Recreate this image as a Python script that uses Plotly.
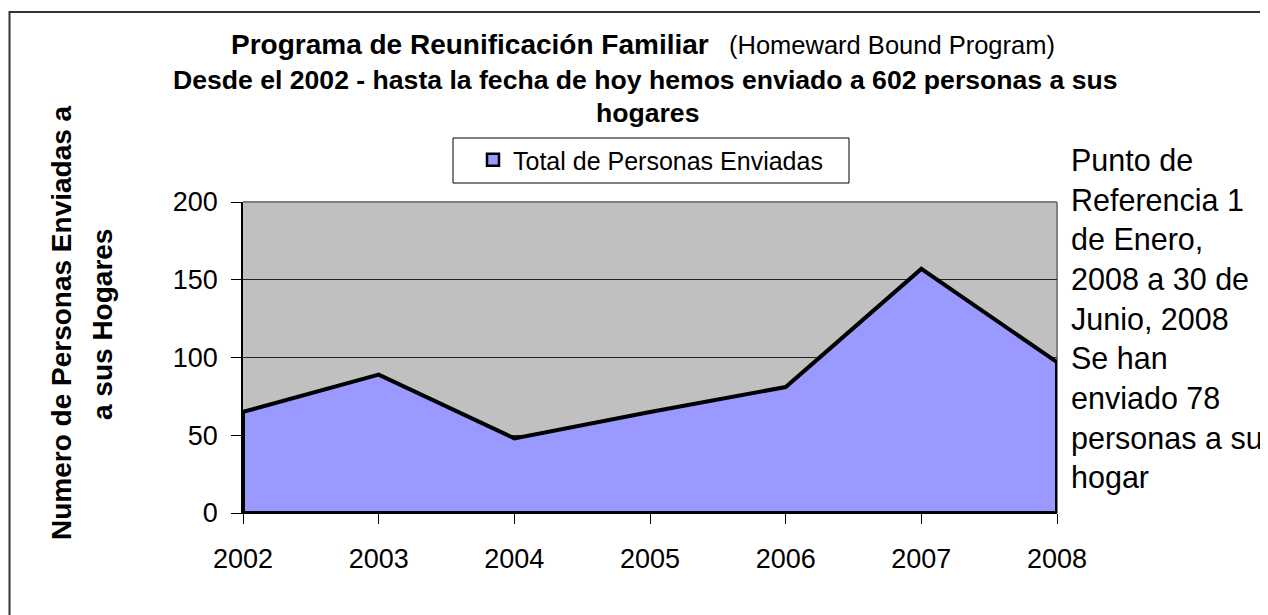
import plotly.graph_objects as go

# ---- data ----
years = [2002, 2003, 2004, 2005, 2006, 2007, 2008]
values = [65, 89, 48, 65, 81, 157, 97]
year_labels = [str(y) for y in years]
series_name = "Total de Personas Enviadas"

title_main = "Programa de Reunificación Familiar"
title_sub = "(Homeward Bound Program)"
title_line2 = "Desde el 2002 - hasta la fecha de hoy hemos enviado a 602 personas a sus"
title_line3 = "hogares"
ytitle_1 = "Numero de Personas Enviadas a"
ytitle_2 = "a sus Hogares"
note_lines = ["Punto de", "Referencia 1", "de Enero,", "2008 a 30 de", "Junio, 2008",
              "Se han", "enviado 78", "personas a su", "hogar"]

# ---- layout geometry (page has an 8px body margin) ----
OFF = 8
W, H = 1268 - OFF, 615 - OFF
PLOT_X0, PLOT_X1, PLOT_Y0, PLOT_Y1 = 243, 1057, 202, 513   # target screen pixels
L = PLOT_X0 - OFF
R = W - (PLOT_X1 - OFF)
T = PLOT_Y0 - OFF
B = H - (PLOT_Y1 - OFF)
FONT = "Liberation Sans, Arial, Helvetica, sans-serif"


def px_x(px):
    return (px - PLOT_X0) / (PLOT_X1 - PLOT_X0)


def px_y(py):
    return (PLOT_Y1 - py) / (PLOT_Y1 - PLOT_Y0)


fig = go.Figure()

# area polygon (closed down to the baseline)
fig.add_trace(go.Scatter(
    x=years + [years[-1], years[0], years[0]],
    y=values + [0, 0, values[0]],
    mode="lines",
    fill="toself",
    fillcolor="#9999FF",
    line=dict(color="black", width=4),
    cliponaxis=False,
    showlegend=False,
    hoverinfo="skip",
))

# legend entry
fig.add_trace(go.Scatter(
    x=[None], y=[None], mode="markers", name=series_name,
    marker=dict(symbol="square", size=12, color="#9999FF",
                line=dict(color="black", width=2.5)),
))

shapes = [
    # outer chart frame
    dict(type="rect", xref="paper", yref="paper",
         x0=px_x(9.5), x1=px_x(1300), y0=px_y(12), y1=px_y(660),
         line=dict(color="#333333", width=2), fillcolor="rgba(0,0,0,0)", layer="above"),
    # plot area top border (gray)
    dict(type="line", xref="paper", yref="paper", x0=0, x1=1, y0=1, y1=1,
         line=dict(color="#808080", width=2), layer="above"),
    # plot area right border (gray)
    dict(type="line", xref="paper", yref="paper", x0=1, x1=1, y0=0, y1=1,
         line=dict(color="#808080", width=2), layer="below"),
    # legend box
    dict(type="rect", xref="paper", yref="paper",
         x0=px_x(453), x1=px_x(849), y0=px_y(183), y1=px_y(138),
         line=dict(color="black", width=1), fillcolor="white", layer="above"),
]

annotations = [
    dict(text="<b>" + title_main + "</b>", x=px_x(229), y=px_y(45),
         xanchor="left", yanchor="middle", font=dict(size=28, color="black", family=FONT)),
    dict(text=title_sub, x=px_x(727), y=px_y(45),
         xanchor="left", yanchor="middle", font=dict(size=25.5, color="black", family=FONT)),
    dict(text="<b>" + title_line2 + "</b>", x=px_x(645), y=px_y(80),
         xanchor="center", yanchor="middle", font=dict(size=26.6, color="black", family=FONT)),
    dict(text="<b>" + title_line3 + "</b>", x=px_x(647), y=px_y(113),
         xanchor="center", yanchor="middle", font=dict(size=26.6, color="black", family=FONT)),
    dict(text="<b>" + ytitle_1 + "</b>", x=px_x(61), y=px_y(323), textangle=-90,
         xanchor="center", yanchor="middle", font=dict(size=28, color="black", family=FONT)),
    dict(text="<b>" + ytitle_2 + "</b>", x=px_x(102), y=px_y(325), textangle=-90,
         xanchor="center", yanchor="middle", font=dict(size=28, color="black", family=FONT)),
    dict(text="<br>".join(note_lines), x=px_x(1069), y=px_y(319),
         xanchor="left", yanchor="middle", align="left",
         font=dict(size=30.5, color="black", family=FONT)),
]
for a in annotations:
    a.update(xref="paper", yref="paper", showarrow=False)

fig.update_layout(
    width=W, height=H,
    margin=dict(l=L, r=R, t=T, b=B, pad=0),
    paper_bgcolor="white",
    plot_bgcolor="#C0C0C0",
    font=dict(family=FONT, color="black"),
    showlegend=True,
    legend=dict(x=px_x(473), y=px_y(160), xanchor="left", yanchor="middle",
                bgcolor="rgba(0,0,0,0)", borderwidth=0,
                font=dict(size=25, family=FONT, color="black")),
    shapes=shapes,
    annotations=annotations,
)

fig.update_xaxes(
    range=[years[0], years[-1]], tickvals=years, ticktext=year_labels,
    ticks="outside", ticklen=10, tickcolor="black", tickwidth=1,
    showgrid=False, zeroline=False, showline=True, linecolor="black", linewidth=1,
    tickfont=dict(size=27, family=FONT, color="black"), ticklabelstandoff=12,
)
fig.update_yaxes(
    range=[0, 200], tickvals=[0, 50, 100, 150, 200],
    ticks="outside", ticklen=10, tickcolor="black", tickwidth=1,
    showgrid=True, gridcolor="#222222", gridwidth=1,
    zeroline=False, showline=True, linecolor="black", linewidth=1.5,
    tickfont=dict(size=27, family=FONT, color="black"), ticklabelstandoff=8,
)

fig.write_html("out.html")
